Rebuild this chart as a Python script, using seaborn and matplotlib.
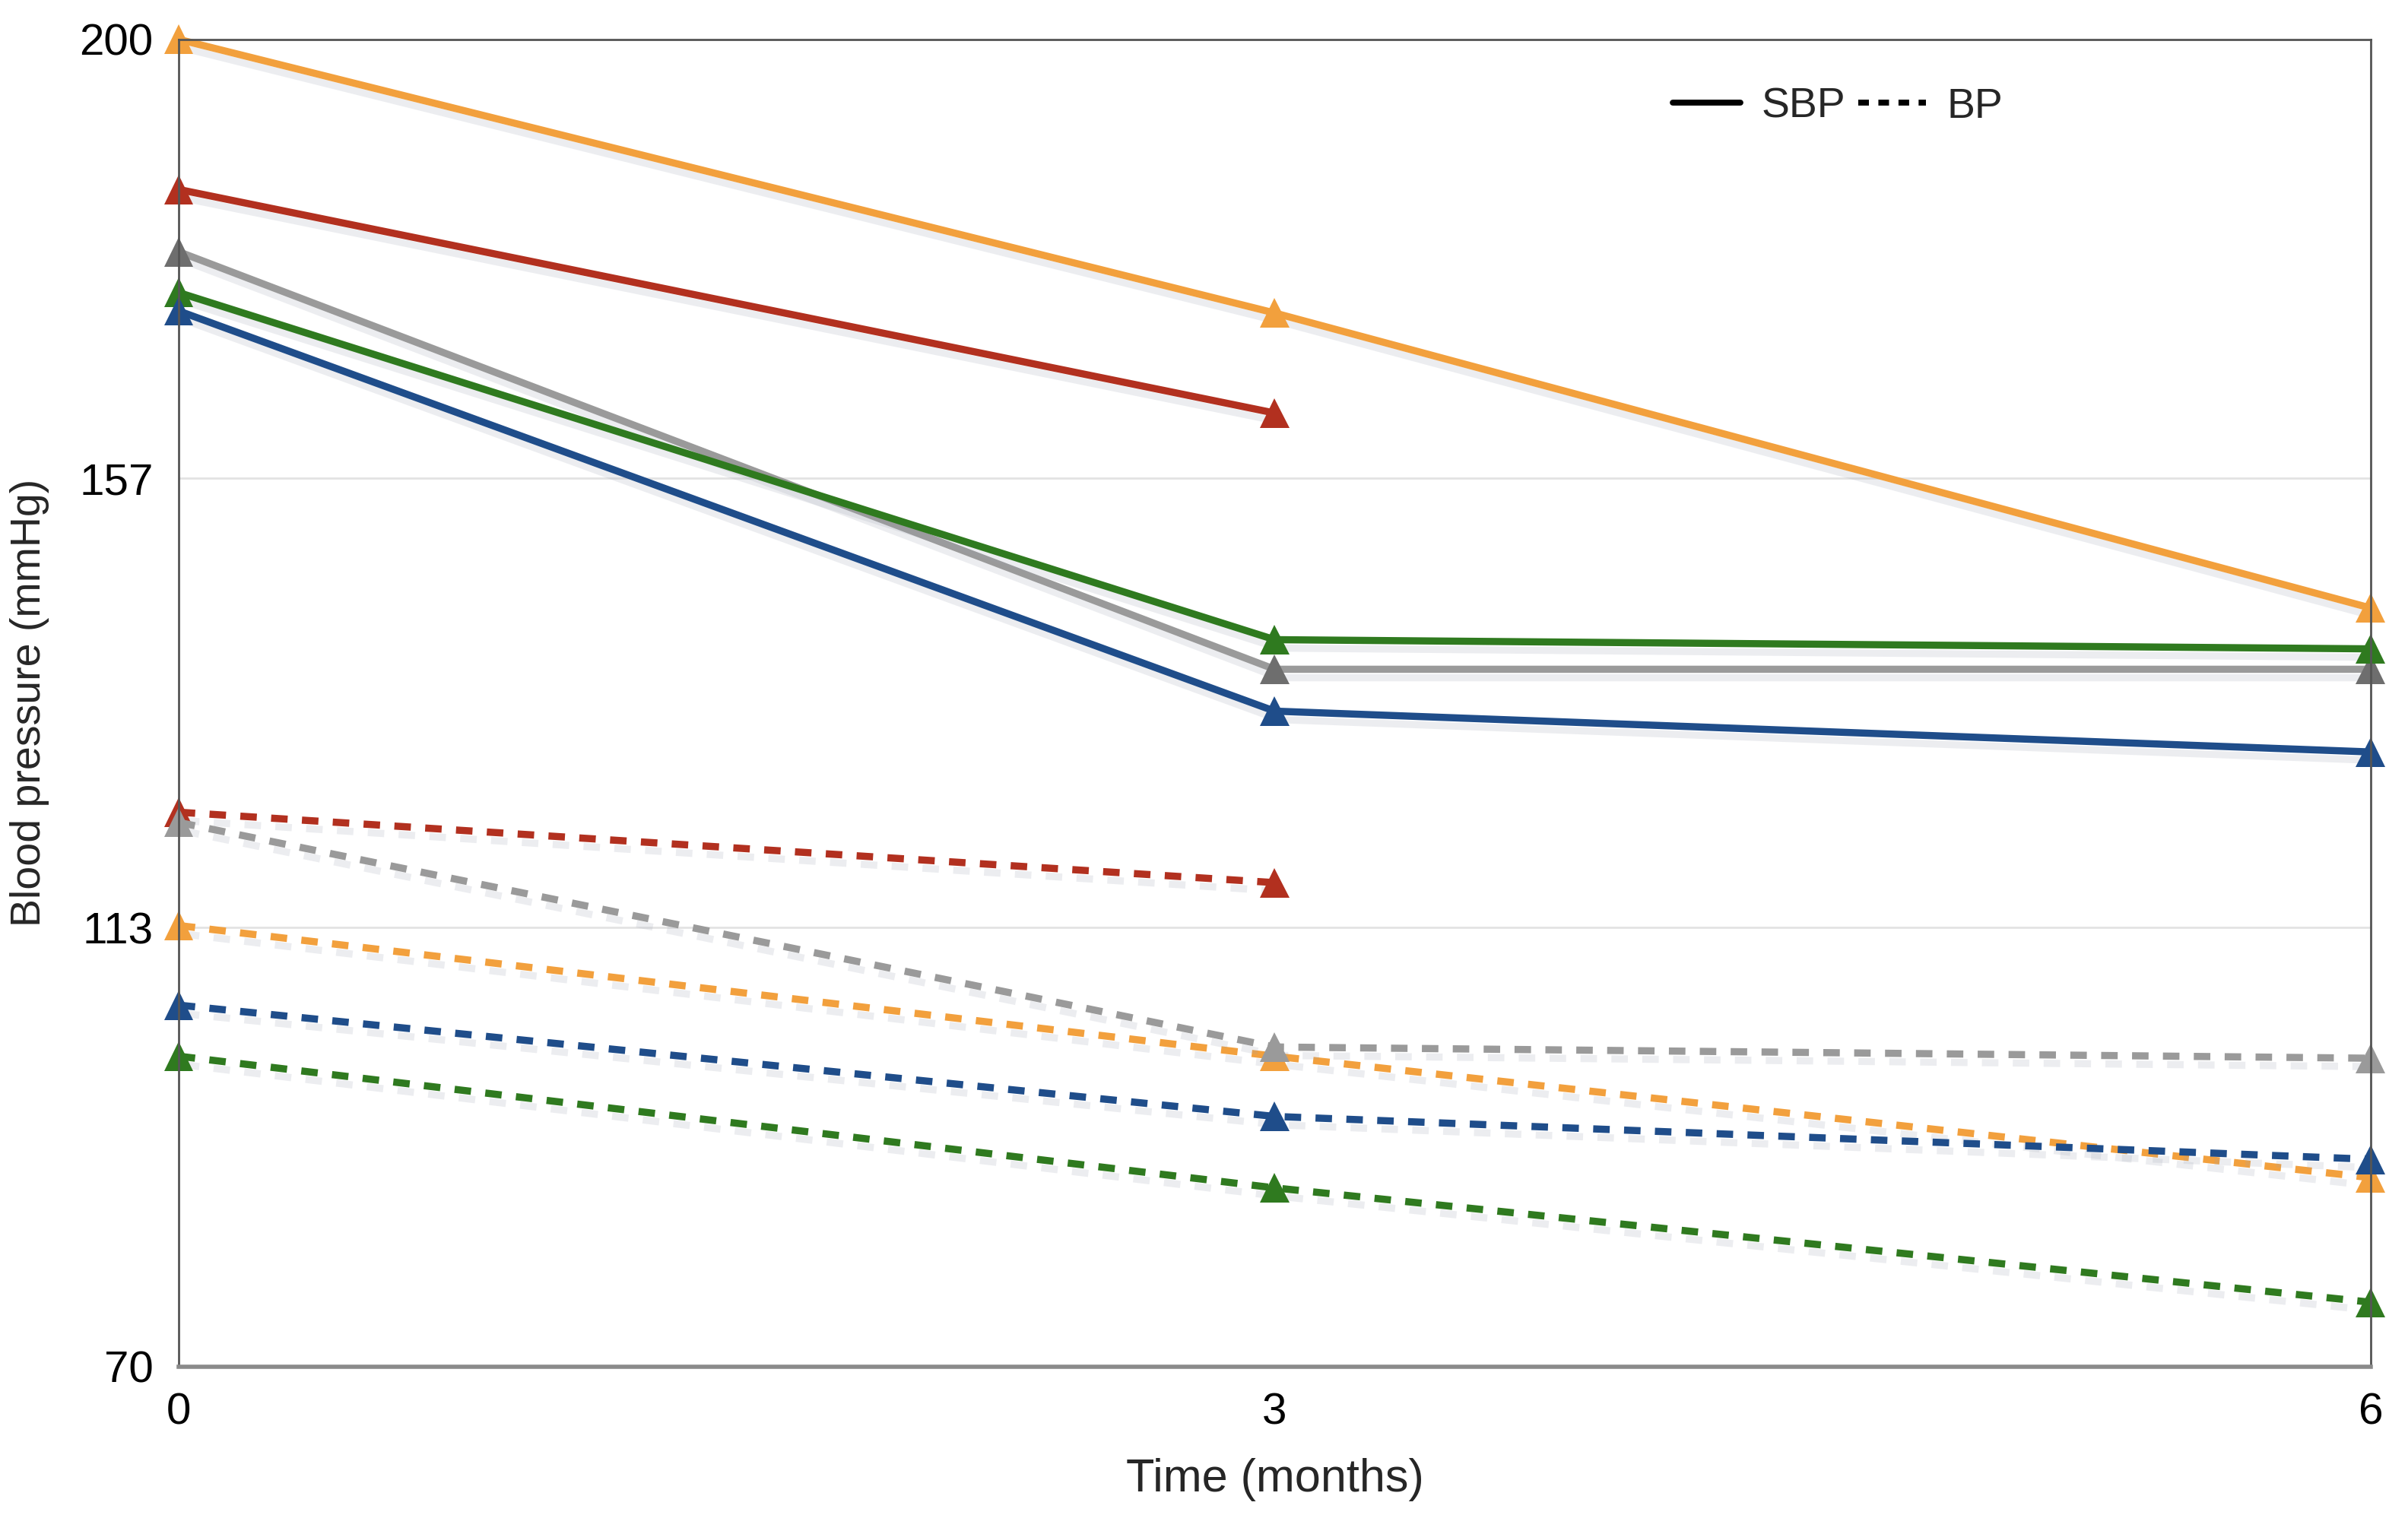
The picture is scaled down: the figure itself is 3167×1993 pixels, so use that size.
import pandas as pd
import numpy as np
import matplotlib
matplotlib.use("Agg")
import matplotlib.pyplot as plt
import matplotlib.patheffects as pe
from matplotlib.lines import Line2D
import seaborn as sns

# ---------------------------------------------------------------------
# Data
# ---------------------------------------------------------------------
months = [0, 3, 6]
patients = ["orange", "red", "gray", "green", "blue"]

sbp_orange = [200.0, 173.2, 144.3]
sbp_red = [185.3, 163.4]
sbp_gray = [179.2, 138.3, 138.3]
sbp_green = [175.2, 141.2, 140.3]
sbp_blue = [173.4, 134.2, 130.2]

bp_orange = [113.2, 100.4, 88.5]
bp_red = [124.3, 117.4]
bp_gray = [123.3, 101.3, 100.2]
bp_green = [100.4, 87.5, 76.3]
bp_blue = [105.4, 94.5, 90.3]

y_ticks = [70, 113, 157, 200]
x_ticks = [0, 3, 6]

palette = {
    "orange": "#F2A03D",
    "red": "#B2301F",
    "gray": "#9A9A9A",
    "green": "#2F7A1F",
    "blue": "#1F4D8A",
}


def build_frame():
    rows = []
    series = {
        ("orange", "SBP"): sbp_orange, ("red", "SBP"): sbp_red,
        ("gray", "SBP"): sbp_gray, ("green", "SBP"): sbp_green,
        ("blue", "SBP"): sbp_blue,
        ("orange", "BP"): bp_orange, ("red", "BP"): bp_red,
        ("gray", "BP"): bp_gray, ("green", "BP"): bp_green,
        ("blue", "BP"): bp_blue,
    }
    for (pat, meas), vals in series.items():
        for t, v in zip(months, vals):
            rows.append({"time": t, "value": v, "patient": pat, "measure": meas})
    return pd.DataFrame(rows)


def main():
    df = build_frame()

    sns.set_theme(style="white")
    plt.rcParams["font.family"] = ["Liberation Sans", "DejaVu Sans"]

    fig = plt.figure(figsize=(15.835, 9.965), dpi=200)
    ax = fig.add_axes([0.0742, 0.098, 0.9103, 0.876])

    sns.lineplot(
        data=df, x="time", y="value", hue="patient", style="measure",
        hue_order=patients, style_order=["SBP", "BP"], palette=palette,
        dashes={"SBP": "", "BP": (2.3, 2.0)},
        markers={"SBP": "^", "BP": "^"}, markersize=14, markeredgewidth=0,
        linewidth=3.4, legend=False, ax=ax, sort=False,
    )

    shadow = [pe.SimpleLineShadow(offset=(2, -4), shadow_color="#9aa0b0", alpha=0.18),
              pe.Normal()]
    for line in ax.lines:
        line.set_clip_on(False)
        line.set_path_effects(shadow)
        if line.get_linestyle() == "-" and matplotlib.colors.to_hex(line.get_color()) == palette["gray"].lower():
            line.set_markerfacecolor("#6E6E6E")

    ax.set_xlim(0, 6)
    ax.set_ylim(70, 200)
    ax.set_xticks(x_ticks)
    ax.set_yticks(y_ticks)
    ax.tick_params(axis="both", length=0, labelsize=21, pad=12, colors="black")
    ax.yaxis.grid(True, color="#E3E3E3", linewidth=1.0)
    ax.set_axisbelow(True)

    for side, spine in ax.spines.items():
        spine.set_color("#555555")
        spine.set_linewidth(1.0)
    ax.spines["bottom"].set_color("#8A8A8A")
    ax.spines["bottom"].set_linewidth(2.0)

    ax.set_xlabel("Time (months)", fontsize=22, labelpad=12)
    ax.set_ylabel("Blood pressure (mmHg)", fontsize=20, labelpad=14)

    handles = [
        Line2D([0], [0], color="black", linewidth=2.8, linestyle="-"),
        Line2D([0], [0], color="black", linewidth=2.8, linestyle=(0, (1.8, 1.6))),
    ]
    ax.legend(handles, ["SBP", "BP"], ncol=2, frameon=False, fontsize=20,
              loc="center", bbox_to_anchor=(0.757, 0.949), handlelength=1.6,
              handletextpad=0.5, columnspacing=0.3)

    fig.savefig("out.png", dpi=200, facecolor="white")
    plt.close(fig)


if __name__ == "__main__":
    main()
